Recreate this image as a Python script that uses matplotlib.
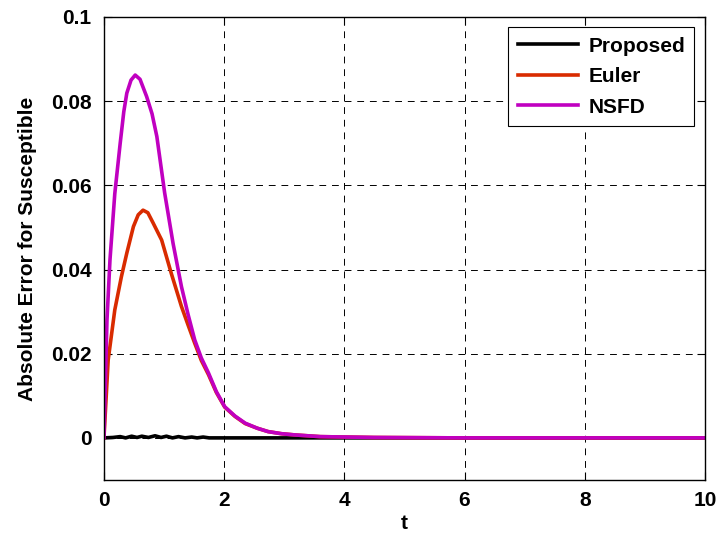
import numpy as np
import matplotlib
matplotlib.use('Agg')
import matplotlib.pyplot as plt
from matplotlib.ticker import FuncFormatter

plt.rcParams['font.family'] = ['Liberation Sans', 'DejaVu Sans']
plt.rcParams['font.weight'] = 'bold'

# values
t_nsfd = [0, 0.05, 0.1, 0.18, 0.27, 0.33, 0.38, 0.45, 0.52, 0.6, 0.71, 0.8, 0.88,
          1.01, 1.15, 1.29, 1.4, 1.51, 1.62, 1.74, 1.87, 2.01, 2.18, 2.35, 2.55,
          2.73, 2.95, 3.18, 3.6, 4.5, 6, 8, 10]
e_nsfd = [0, 0.028, 0.0423, 0.058, 0.070, 0.0775, 0.0819, 0.085, 0.0862, 0.0852,
          0.0811, 0.077, 0.0716, 0.0582, 0.0462, 0.0359, 0.0293, 0.0233, 0.0190,
          0.0154, 0.0110, 0.0074, 0.0052, 0.0035, 0.0023, 0.0015, 0.0010, 0.0007,
          0.0003, 0.0001, 0, 0, 0]

t_euler = [0, 0.07, 0.18, 0.29, 0.38, 0.49, 0.57, 0.65, 0.73, 0.82, 0.96, 1.12,
           1.29, 1.4, 1.51, 1.62, 1.74, 1.87, 2.01, 2.18, 2.35, 2.55, 2.73, 2.95,
           3.18, 3.6, 4.5, 6, 8, 10]
e_euler = [0, 0.0185, 0.0304, 0.0383, 0.0439, 0.0502, 0.0530, 0.0541, 0.0535, 0.0510,
           0.0470, 0.0391, 0.0312, 0.0268, 0.0225, 0.0184, 0.0150, 0.0108, 0.0073,
           0.0051, 0.0034, 0.0023, 0.0015, 0.0010, 0.0007, 0.0003, 0.0001, 0, 0, 0]

t_prop = [0, 0.15, 0.27, 0.36, 0.46, 0.55, 0.63, 0.74, 0.85, 0.95, 1.04, 1.14,
          1.24, 1.35, 1.46, 1.55, 1.65, 1.75, 3, 10]
e_prop = [0, 0.0001, 0.0003, 0.0, 0.0004, 0.0001, 0.0004, 0.0001, 0.0005, 0.0001,
          0.0004, 0.0, 0.0003, 0.0, 0.0002, 0.0, 0.0002, 0, 0, 0]

fig = plt.figure(figsize=(7.2, 5.39), dpi=100)
ax = fig.add_axes([0.1444, 0.1095, 0.8346, 0.859])

ax.plot(t_prop, e_prop, color='black', linewidth=2.6, label='Proposed')
ax.plot(t_euler, e_euler, color='#d92b00', linewidth=2.6, label='Euler')
ax.plot(t_nsfd, e_nsfd, color='#c000c0', linewidth=2.6, label='NSFD')

ax.set_xlim(0, 10)
ax.set_ylim(-0.01, 0.1)
ax.set_xticks([0, 2, 4, 6, 8, 10])
ax.set_yticks([0, 0.02, 0.04, 0.06, 0.08, 0.1])
ax.yaxis.set_major_formatter(FuncFormatter(lambda v, p: '%g' % round(v, 3)))
ax.grid(True, color='black', linestyle=(0, (7, 6)), linewidth=0.7)
ax.tick_params(direction='in', top=True, right=True, labelsize=15, length=6, width=0.8)
ax.tick_params(axis='y', pad=9)
ax.tick_params(axis='x', pad=8)
for s in ax.spines.values():
    s.set_linewidth(1.0)

ax.set_xlabel('t', fontsize=15, fontweight='bold', labelpad=3)
ax.set_ylabel('Absolute Error for Susceptible', fontsize=15, fontweight='bold', labelpad=10)

leg = ax.legend(loc='upper right', fontsize=15, fancybox=False, framealpha=1,
                edgecolor='black', handlelength=2.9, borderaxespad=0.5,
                labelspacing=0.55, borderpad=0.45, handletextpad=0.5)
leg.get_frame().set_linewidth(0.8)

plt.savefig('out.png', dpi=100)
